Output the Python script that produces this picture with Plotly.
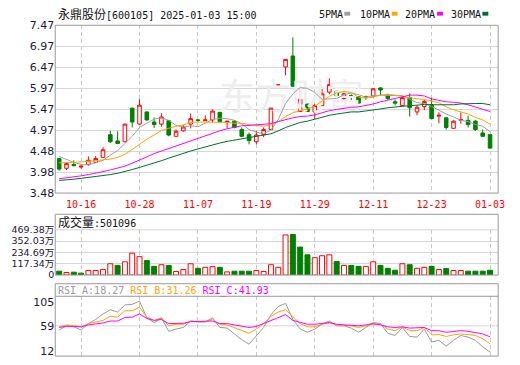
import plotly.graph_objects as go

# ---------------- data ----------------
dates = ['10-11', '10-14', '10-15', '10-16', '10-17', '10-18', '10-21', '10-22', '10-23', '10-24',
         '10-25', '10-28', '10-29', '10-30', '10-31', '11-01', '11-04', '11-05', '11-06', '11-07',
         '11-08', '11-11', '11-12', '11-13', '11-14', '11-15', '11-18', '11-19', '11-20', '11-21',
         '11-22', '11-25', '11-26', '11-27', '11-28', '11-29', '12-02', '12-03', '12-04', '12-05',
         '12-06', '12-09', '12-10', '12-11', '12-12', '12-13', '12-16', '12-17', '12-18', '12-19',
         '12-20', '12-23', '12-24', '12-25', '12-26', '12-27', '12-30', '12-31', '01-02', '01-03']

open_ = [4.30, 4.07, 4.16, 4.10, 4.16, 4.21, 4.33, 4.87, 4.72, 4.70,
         5.50, 5.12, 5.41, 5.17, 5.12, 5.20, 4.83, 4.96, 5.12, 5.22,
         5.20, 5.22, 5.40, 5.16, 5.19, 4.99, 4.87, 4.70, 4.87, 4.99,
         6.05, 6.48, 6.74, 5.42, 5.60, 5.41, 5.56, 5.88, 5.90, 5.73,
         5.80, 5.77, 5.77, 5.79, 5.98, 5.80, 5.65, 5.56, 5.75, 5.41,
         5.54, 5.58, 5.31, 5.27, 5.02, 5.21, 5.21, 5.19, 4.91, 4.87]
high = [4.31, 4.20, 4.26, 4.13, 4.35, 4.36, 4.57, 4.96, 4.95, 5.13,
        5.51, 5.71, 5.42, 5.28, 5.38, 5.21, 4.99, 5.10, 5.37, 5.23,
        5.33, 5.47, 5.40, 5.20, 5.21, 5.04, 4.92, 4.96, 5.04, 5.50,
        6.05, 6.66, 7.18, 5.98, 5.60, 5.60, 5.96, 6.21, 5.91, 5.86,
        5.83, 5.79, 5.80, 5.98, 6.00, 5.84, 5.71, 5.77, 5.85, 5.57,
        5.70, 5.75, 5.40, 5.27, 5.21, 5.40, 5.32, 5.22, 4.99, 4.88]
low = [4.01, 4.03, 4.12, 4.06, 4.13, 4.20, 4.32, 4.67, 4.64, 4.69,
       5.04, 5.11, 5.20, 5.03, 5.06, 4.83, 4.82, 4.94, 5.02, 5.17,
       5.20, 5.16, 5.16, 5.02, 5.02, 4.81, 4.64, 4.64, 4.81, 4.98,
       6.05, 6.28, 6.01, 5.41, 5.41, 5.25, 5.55, 5.83, 5.77, 5.70,
       5.68, 5.60, 5.70, 5.77, 5.80, 5.70, 5.57, 5.56, 5.30, 5.33,
       5.45, 5.24, 5.14, 4.99, 5.01, 5.13, 5.04, 4.96, 4.81, 4.53]
close = [4.05, 4.18, 4.13, 4.12, 4.26, 4.30, 4.51, 4.70, 4.66, 5.12,
         5.17, 5.57, 5.22, 5.11, 5.29, 4.86, 4.95, 5.05, 5.25, 5.21,
         5.22, 5.43, 5.18, 5.19, 5.04, 4.83, 4.73, 4.86, 4.99, 5.50,
         6.05, 6.66, 6.02, 5.71, 5.42, 5.56, 5.84, 6.06, 5.79, 5.84,
         5.78, 5.62, 5.76, 5.96, 5.93, 5.73, 5.62, 5.75, 5.51, 5.52,
         5.66, 5.25, 5.33, 5.04, 5.19, 5.23, 5.11, 4.99, 4.83, 4.55]
volume = [400000, 270000, 300000, 200000, 470000, 470000, 570000, 1170000, 1000000, 1370000,
          2270000, 1900000, 1500000, 900000, 1070000, 1000000, 370000, 570000, 1170000, 700000,
          800000, 870000, 800000, 330000, 400000, 400000, 400000, 470000, 370000, 1070000,
          800000, 4160000, 4200000, 2900000, 2100000, 1800000, 2000000, 2100000, 1400000, 1000000,
          1000000, 900000, 900000, 1370000, 1000000, 700000, 500000, 1170000, 1070000, 700000,
          800000, 900000, 570000, 670000, 470000, 470000, 400000, 400000, 400000, 501096]

ma5 = [4.35, 4.28, 4.21, 4.16, 4.15, 4.20, 4.26, 4.38, 4.49, 4.66,
       4.83, 5.04, 5.15, 5.24, 5.27, 5.21, 5.09, 5.05, 5.08, 5.06,
       5.14, 5.23, 5.26, 5.25, 5.21, 5.13, 4.99, 4.93, 4.89, 4.98,
       5.23, 5.61, 5.84, 5.99, 5.97, 5.87, 5.71, 5.72, 5.73, 5.82,
       5.86, 5.82, 5.76, 5.79, 5.81, 5.80, 5.80, 5.80, 5.71, 5.63,
       5.61, 5.54, 5.45, 5.36, 5.29, 5.21, 5.18, 5.11, 5.07, 4.94]
ma10 = [4.20, 4.20, 4.21, 4.22, 4.23, 4.25, 4.27, 4.29, 4.33, 4.40,
        4.52, 4.65, 4.76, 4.86, 4.97, 5.02, 5.07, 5.10, 5.16, 5.17,
        5.17, 5.16, 5.16, 5.16, 5.14, 5.14, 5.11, 5.09, 5.07, 5.10,
        5.18, 5.30, 5.39, 5.44, 5.48, 5.55, 5.66, 5.78, 5.86, 5.90,
        5.87, 5.76, 5.74, 5.76, 5.81, 5.83, 5.81, 5.78, 5.75, 5.72,
        5.71, 5.67, 5.63, 5.53, 5.46, 5.41, 5.36, 5.28, 5.22, 5.12]
ma20 = [3.82, 3.84, 3.86, 3.89, 3.92, 3.95, 3.99, 4.03, 4.07, 4.12,
        4.19, 4.26, 4.34, 4.42, 4.48, 4.54, 4.60, 4.66, 4.72, 4.79,
        4.84, 4.91, 4.96, 5.01, 5.05, 5.08, 5.09, 5.10, 5.11, 5.13,
        5.18, 5.23, 5.27, 5.30, 5.31, 5.34, 5.39, 5.44, 5.47, 5.50,
        5.52, 5.53, 5.56, 5.60, 5.65, 5.69, 5.74, 5.78, 5.81, 5.81,
        5.79, 5.72, 5.68, 5.65, 5.64, 5.62, 5.58, 5.53, 5.48, 5.42]
ma30 = [3.78, 3.79, 3.81, 3.83, 3.85, 3.87, 3.89, 3.92, 3.95, 3.99,
        4.04, 4.09, 4.14, 4.19, 4.25, 4.31, 4.37, 4.43, 4.48, 4.53,
        4.58, 4.63, 4.67, 4.71, 4.74, 4.77, 4.80, 4.83, 4.86, 4.89,
        4.96, 5.04, 5.10, 5.16, 5.19, 5.24, 5.28, 5.33, 5.36, 5.39,
        5.41, 5.41, 5.43, 5.46, 5.48, 5.51, 5.53, 5.55, 5.56, 5.57,
        5.59, 5.58, 5.58, 5.58, 5.58, 5.60, 5.61, 5.61, 5.61, 5.58]

rsi_a = [52.5, 59, 57.5, 52.5, 62.5, 69, 77.5, 84, 80.5, 91.5,
         92.5, 97.5, 71.5, 64, 71.5, 50.5, 54, 56.5, 66.5, 65,
         65, 71.5, 56.5, 55.5, 46.5, 37.5, 30.5, 44, 56.5, 76.5,
         89, 94, 69, 54, 49, 54, 61.5, 66.5, 59, 59,
         55.5, 49, 56.5, 64, 62.5, 47.5, 44, 56.5, 42.5, 41.5,
         54, 34, 36.5, 27.5, 36.5, 44, 41.5, 36.5, 26.5, 18.27]
rsi_b = [57.5, 60.5, 59.5, 57.5, 62.5, 65, 67.5, 74, 72.5, 82.5,
         82.5, 88, 72.5, 67.5, 71.5, 59, 61.5, 61.5, 66.5, 65.5,
         65.5, 69, 61.5, 60.5, 56.5, 52.5, 47.5, 54, 62.5, 74,
         80.5, 84, 72.5, 62.5, 57.5, 57.5, 61.5, 64, 60.5, 60,
         59, 56.5, 59, 61.5, 61.5, 54, 51.5, 57.5, 51.5, 51.5,
         56.5, 45, 45.5, 42.5, 45, 46.5, 45.5, 44, 39, 31.26]
rsi_c = [56.5, 58.5, 58, 57.5, 60.5, 62, 63.5, 66.5, 66.5, 72,
         72.5, 77.5, 70.5, 67.5, 69, 62.5, 62.5, 63, 65.5, 65.5,
         65.5, 66.5, 62.5, 62.5, 60.5, 58.5, 56.5, 58, 62.5, 67.5,
         72.5, 76.5, 67.5, 64, 61.5, 61.5, 63, 64, 61.5, 61,
         60.5, 59, 60.5, 62.5, 60.5, 57.5, 56.5, 57.5, 55.5, 55.5,
         56.5, 51.5, 51.5, 49, 50.5, 51.5, 50.5, 49, 46.5, 41.93]

price_ticks = [3.48, 3.98, 4.48, 4.97, 5.47, 5.97, 6.47, 6.97, 7.47]
vol_ticks = [0, 1173400, 2346900, 3520300, 4693800]
vol_tick_labels = ['0', '117.34万', '234.69万', '352.03万', '469.38万']
rsi_range = [12, 105]
rsi_tick_labels = ['105', '59', '12']
tick_dates = ['10-16', '10-28', '11-07', '11-19', '11-29', '12-11', '12-23', '01-03']
title_name = '永鼎股份'
title_rest = '[600105] 2025-01-03 15:00'
ma_names = ['5PMA', '10PMA', '20PMA', '30PMA']

# ---------------- geometry / styles ----------------
W, H = 520, 365
PL, PR = 56, 505
MAIN_T, MAIN_B = 20, 194
VOL_T, VOL_HDR, VOL_B = 216, 232, 279
RSI_T, RSI_HDR, RSI_B = 288, 301, 363

def fx(p):
    return p / W

def fy(p):
    return 1 - p / H

RED = '#ff0000'
GREEN = '#008000'
MA_COLORS = ['#a0a0a0', '#ffa500', '#ff00ff', '#006e2e']
RSI_COLORS = ['#999999', '#ffa500', '#ff00ff']
BORDER = '#999999'
GRID = '#d6d6d6'
VGRID = '#c8c8c8'
MONO = 'DejaVu Sans Mono, Noto Sans CJK SC'

n = len(dates)
idx = list(range(n))
x_range = [-0.54, n + 0.12]
tick_idx = [dates.index(d) for d in tick_dates]

fig = go.Figure()

# watermark (drawn first, below everything)
fig.add_trace(go.Scatter(
    x=[(x_range[0] + x_range[1]) / 2 + 2], y=[(price_ticks[0] + price_ticks[-1]) / 2 + 0.2],
    mode='text', text=['东方财富'],
    textfont=dict(family='Noto Sans CJK SC', size=36, color='#eeeeee'),
    hoverinfo='skip', xaxis='x', yaxis='y'))

fig.add_trace(go.Candlestick(
    x=idx, open=open_, high=high, low=low, close=close,
    increasing=dict(line=dict(color=RED, width=1), fillcolor='#ffffff'),
    decreasing=dict(line=dict(color=GREEN, width=1), fillcolor=GREEN),
    whiskerwidth=0, xaxis='x', yaxis='y', hoverinfo='skip'))

for vals, col in zip([ma5, ma10, ma20, ma30], MA_COLORS):
    fig.add_trace(go.Scatter(x=idx, y=vals, mode='lines', line=dict(color=col, width=1),
                             xaxis='x', yaxis='y', hoverinfo='skip'))

up = [close[0] >= open_[0]] + [close[i] > close[i - 1] for i in range(1, n)]
fig.add_trace(go.Bar(
    x=idx, y=volume, width=0.68,
    marker=dict(color=['#ffffff' if u else GREEN for u in up],
                line=dict(color=[RED if u else GREEN for u in up], width=1)),
    xaxis='x2', yaxis='y2', hoverinfo='skip'))

for vals, col in zip([rsi_a, rsi_b, rsi_c], RSI_COLORS):
    fig.add_trace(go.Scatter(x=idx, y=vals, mode='lines', line=dict(color=col, width=1),
                             xaxis='x3', yaxis='y3', hoverinfo='skip'))

common_x = dict(range=x_range, tickvals=tick_idx, showgrid=True, gridcolor=VGRID,
                griddash='4px,3px', gridwidth=1, zeroline=False, showline=False,
                ticks='', fixedrange=True, domain=[fx(PL), fx(PR)])

ytick_font = dict(family='DejaVu Sans, Noto Sans CJK SC', size=11, color='#1b1b35')
vtick_font = dict(family='DejaVu Sans, Noto Sans CJK SC', size=9.5, color='#1b1b35')
ppad = 0.0004
vpad = 400
upp = (rsi_range[1] - rsi_range[0]) / (RSI_B - RSI_HDR)
rsi_tick_pos = [rsi_range[1] - 6 * upp, 59, rsi_range[0] + 5 * upp]

fig.update_layout(
    width=W, height=H, margin=dict(l=0, r=0, t=0, b=0),
    paper_bgcolor='white', plot_bgcolor='white', showlegend=False, boxgap=0.3,
    xaxis=dict(common_x, anchor='y', ticktext=tick_dates,
               tickfont=dict(family='DejaVu Sans Mono', size=10, color=RED),
               rangeslider=dict(visible=False), ticklabelstandoff=4),
    xaxis2=dict(common_x, anchor='y2', showticklabels=False),
    xaxis3=dict(common_x, anchor='y3', showticklabels=False),
    yaxis=dict(domain=[fy(MAIN_B), fy(MAIN_T)], anchor='x',
               range=[price_ticks[0] - ppad, price_ticks[-1] + ppad],
               tickvals=price_ticks, ticktext=[f'{v:.2f}' for v in price_ticks],
               showgrid=True, gridcolor=GRID, zeroline=False, ticks='',
               tickfont=ytick_font, fixedrange=True),
    yaxis2=dict(domain=[fy(VOL_B), fy(VOL_HDR)], anchor='x2',
                range=[-vpad, vol_ticks[-1] + vpad],
                tickvals=vol_ticks, ticktext=vol_tick_labels,
                showgrid=True, gridcolor=GRID, zeroline=False, ticks='',
                tickfont=vtick_font, fixedrange=True),
    yaxis3=dict(domain=[fy(RSI_B), fy(RSI_HDR)], anchor='x3', range=rsi_range,
                tickvals=rsi_tick_pos, ticktext=rsi_tick_labels,
                showgrid=False, zeroline=False, ticks='',
                tickfont=ytick_font, fixedrange=True),
)

shapes = []
for top, bot in [(MAIN_T, MAIN_B), (VOL_T, VOL_B), (RSI_T, RSI_B)]:
    shapes.append(dict(type='rect', xref='paper', yref='paper', x0=fx(PL), x1=fx(PR),
                       y0=fy(bot), y1=fy(top), line=dict(color=BORDER, width=1)))
shapes.append(dict(type='line', xref='paper', yref='paper', x0=fx(PL), x1=fx(PR),
                   y0=fy(VOL_HDR), y1=fy(VOL_HDR), line=dict(color=GRID, width=1)))
shapes.append(dict(type='line', xref='paper', yref='paper', x0=fx(PL), x1=fx(PR),
                   y0=fy(RSI_HDR), y1=fy(RSI_HDR), line=dict(color=BORDER, width=1)))
shapes.append(dict(type='line', xref='x3 domain', yref='y3', x0=0, x1=1, y0=59, y1=59,
                   layer='below', line=dict(color=GRID, width=1)))

annotations = []
annotations.append(dict(
    xref='paper', yref='paper', x=fx(57), y=fy(9.5), xanchor='left', yanchor='middle',
    showarrow=False, font=dict(family=MONO, size=10, color='#111111'),
    text=f'<span style="font-size:12px">{title_name}</span>{title_rest}'))

leg_text_x = [321, 363, 409, 455]
leg_sq_x = [349, 397, 443, 489]
for name, col, tx, sx in zip(ma_names, MA_COLORS, leg_text_x, leg_sq_x):
    annotations.append(dict(xref='paper', yref='paper', x=fx(tx), y=fy(9), xanchor='left',
                            yanchor='middle', showarrow=False, text=name,
                            font=dict(family=MONO, size=10, color='#111111')))
    shapes.append(dict(type='rect', xref='paper', yref='paper', x0=fx(sx), x1=fx(sx + 6),
                       y0=fy(10), y1=fy(6), line=dict(width=0), fillcolor=col))

annotations.append(dict(
    xref='paper', yref='paper', x=fx(57), y=fy(224.5), xanchor='left', yanchor='middle',
    showarrow=False, font=dict(family=MONO, size=10, color='#111111'),
    text=f'<span style="font-size:12px">成交量</span>:{volume[-1]}'))

rsi_hdr = ' '.join(
    f'<span style="color:{c}">{lab}:{vals[-1]:.2f}</span>'
    for lab, c, vals in zip(['RSI_A', 'RSI_B', 'RSI_C'], RSI_COLORS, [rsi_a, rsi_b, rsi_c]))
annotations.append(dict(
    xref='paper', yref='paper', x=fx(57), y=fy(295.5), xanchor='left', yanchor='middle',
    showarrow=False, font=dict(family=MONO, size=10, color='#999999'), text=rsi_hdr))

fig.update_layout(shapes=shapes, annotations=annotations)

fig.write_html('out.html', include_plotlyjs=True, full_html=True,
               config={'displayModeBar': False, 'staticPlot': True})
